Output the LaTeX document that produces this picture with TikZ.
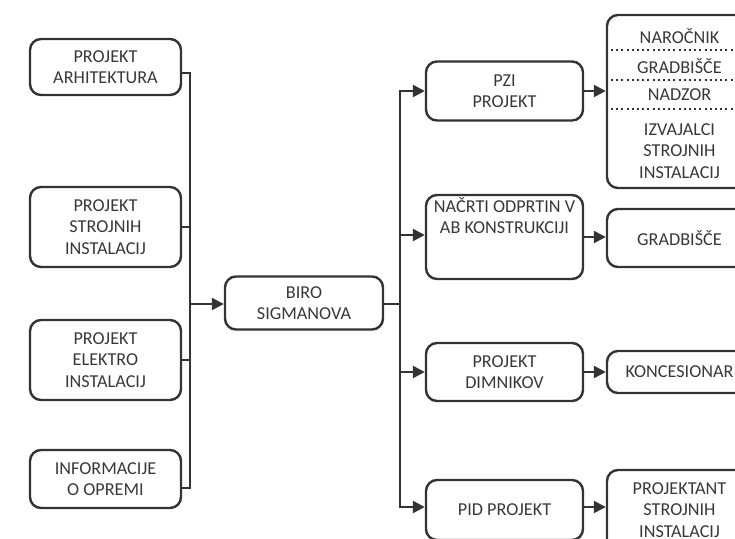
\documentclass[tikz,border=0pt]{standalone}
\usepackage{fontspec}
\setmainfont{Carlito}
\usetikzlibrary{arrows.meta,positioning}

\begin{document}
\begin{tikzpicture}[x=1pt,y=-1pt]
  % Settings
  \tikzset{
    box/.style={draw=linegray, line width=2.4pt, rounded corners=11pt, text=textgray, align=center,
      inner sep=0pt, font=\fontsize{18.2}{21.5}\selectfont},
    lbox/.style={box, minimum width=151pt},
    mbox/.style={box, minimum width=157pt},
    rbox/.style={box, minimum width=145pt},
    item/.style={text=textgray, align=center, inner sep=0pt, font=\fontsize{18.2}{21.5}\selectfont},
    line/.style={draw=linegray, line width=2.4pt},
    arr/.style={line, -{Triangle[length=12pt,width=12pt]}},
    sep/.style={draw=linegray, line width=2pt, dash pattern=on 2pt off 3.2pt},
  }
  \colorlet{linegray}{black!80}
  \colorlet{textgray}{black!78}
  \useasboundingbox (0,0) rectangle (735,538);
  % Left column
  \node[lbox, minimum height=56pt] (arh)   at (105.5,67)  {PROJEKT\\ARHITEKTURA};
  \node[lbox, minimum height=80pt] (stroj) at (105.5,227) {PROJEKT\\STROJNIH\\INSTALACIJ};
  \node[lbox, minimum height=80pt] (elek)  at (105.5,360) {PROJEKT\\ELEKTRO\\INSTALACIJ};
  \node[lbox, minimum height=58pt] (info)  at (105.5,479) {INFORMACIJE\\O OPREMI};
  \node[box, minimum width=158pt, minimum height=53pt] (biro) at (304,303) {BIRO\\SIGMANOVA};
  % Middle column
  \node[mbox, minimum height=59pt] (pzi)    at (504.5,91)  {PZI\\PROJEKT};
  \node[mbox, minimum height=84pt] (nacrti) at (504.5,237) {NAČRTI ODPRTIN V\\AB KONSTRUKCIJI\\[21pt]};
  \node[mbox, minimum height=58pt] (dimn)   at (504.5,372) {PROJEKT\\DIMNIKOV};
  \node[mbox, minimum height=60pt] (pid)    at (504.5,510) {PID PROJEKT};
  % Right column
  \node[rbox, minimum height=173pt] (list) at (679.5,101.5) {};
  \node[item] (naroc) at (679.5,36)  {NAROČNIK};
  \node[item] (gradl) at (679.5,66)  {GRADBIŠČE};
  \node[item] (nadz)  at (679.5,95)  {NADZOR};
  \node[item] (izv)   at (679.5,151) {IZVAJALCI\\STROJNIH\\INSTALACIJ};
  \foreach \y in {50,80,109} {\draw[sep] (list.west |- 0,\y) -- (list.east |- 0,\y);}
  \node[rbox, minimum height=58pt] (gradb) at (679.5,238) {GRADBIŠČE};
  \node[rbox, minimum height=42pt] (konc)  at (679.5,372) {KONCESIONAR};
  \node[rbox, minimum height=80pt] (proj)  at (679.5,510) {PROJEKTANT\\STROJNIH\\INSTALACIJ};
  % Bus points
  \coordinate (lbus) at (190,304);
  \coordinate (rbus) at (400,304);
  % Arrows
  \draw[line] ([yshift=-6pt]arh.east) -| (lbus);
  \draw[line] ([yshift=-9pt]info.east) -| (lbus);
  \draw[line] (stroj.east) -- (stroj.east -| lbus);
  \draw[line] (elek.east) -- (elek.east -| lbus);
  \draw[arr] (lbus) -- (lbus -| biro.west);
  \draw[line] (biro.east |- rbus) -- (rbus);
  \draw[arr] (rbus) |- (pzi.west);
  \draw[arr] (rbus) |- ([yshift=2pt]nacrti.west);
  \draw[arr] (rbus) |- (dimn.west);
  \draw[arr] (rbus) |- ([yshift=3pt]pid.west);
  \draw[arr] (pzi.east) -- (pzi.east -| list.west);
  \draw[arr] (nacrti.east) -- (nacrti.east -| gradb.west);
  \draw[arr] (dimn.east) -- (dimn.east -| konc.west);
  \draw[arr] ([yshift=3pt]pid.east) -- ([yshift=3pt]pid.east -| proj.west);
\end{tikzpicture}
\end{document}
